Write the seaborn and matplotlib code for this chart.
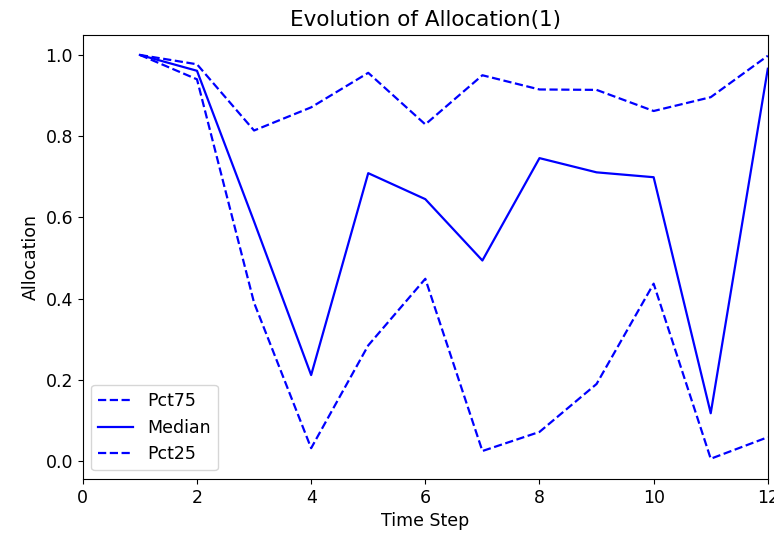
import numpy as np
import pandas as pd
import matplotlib
matplotlib.use("Agg")
import matplotlib.pyplot as plt
import seaborn as sns

time_step = [1, 2, 3, 4, 5, 6, 7, 8, 9, 10, 11, 12]
pct75 = [1.0, 0.977, 0.814, 0.871, 0.956, 0.829, 0.950, 0.915, 0.914, 0.862, 0.896, 0.998]
median = [1.0, 0.961, 0.59, 0.212, 0.709, 0.645, 0.494, 0.746, 0.711, 0.699, 0.118, 0.966]
pct25 = [1.0, 0.940, 0.39, 0.032, 0.285, 0.449, 0.025, 0.072, 0.190, 0.437, 0.006, 0.059]

df = pd.DataFrame({"Time Step": time_step, "Pct75": pct75,
                   "Median": median, "Pct25": pct25})

plt.rcParams["font.size"] = 12.5

fig, ax = plt.subplots(figsize=(7.74, 5.43), dpi=100)
fig.subplots_adjust(left=0.107, right=0.992, top=0.936, bottom=0.118)

sns.lineplot(data=df, x="Time Step", y="Pct75", ax=ax, color="blue",
             linestyle="--", label="Pct75", lw=1.6)
sns.lineplot(data=df, x="Time Step", y="Median", ax=ax, color="blue",
             linestyle="-", label="Median", lw=1.6)
sns.lineplot(data=df, x="Time Step", y="Pct25", ax=ax, color="blue",
             linestyle="--", label="Pct25", lw=1.6)

ax.set_xlim(0, 12)
ax.set_xticks(range(0, 13, 2))
ax.set_yticks(np.arange(0, 1.01, 0.2))
ax.set_xlabel("Time Step")
ax.set_ylabel("Allocation")
ax.set_title("Evolution of Allocation(1)", fontsize=15.5)
ax.legend(loc="lower left")

fig.savefig("out.png", dpi=100)
